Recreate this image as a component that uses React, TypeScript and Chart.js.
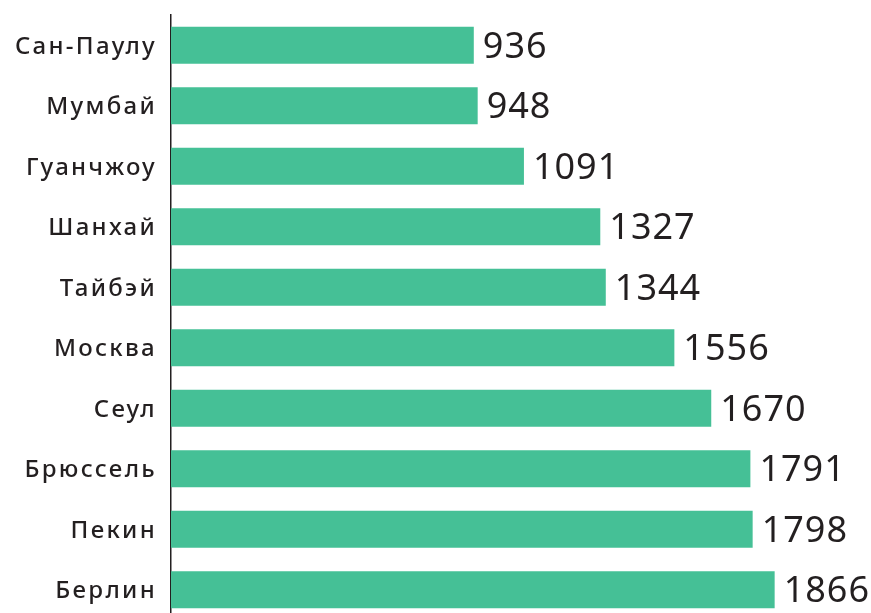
import React, { useEffect, useRef } from "react";
import { Chart, registerables } from "chart.js";

Chart.register(...registerables);

const categories = ["Сан-Паулу", "Мумбай", "Гуанчжоу", "Шанхай", "Тайбэй", "Москва", "Сеул", "Брюссель", "Пекин", "Берлин"];
const values = [936, 948, 1091, 1327, 1344, 1556, 1670, 1791, 1798, 1866];

const BAR_COLOR = "#45c096";
const TEXT_COLOR = "#231f20";

const labelPlugin = {
  id: "customLabels",
  afterDraw(chart: any) {
    const ctx = chart.ctx as CanvasRenderingContext2D;
    const yScale = chart.scales.y;
    const meta = chart.getDatasetMeta(0);
    ctx.save();
    ctx.fillStyle = TEXT_COLOR;
    // category labels
    ctx.font = "500 24px 'Noto Sans'";
    (ctx as any).letterSpacing = "2.3px";
    ctx.textAlign = "right";
    ctx.textBaseline = "alphabetic";
    categories.forEach((c, i) => {
      const y = yScale.getPixelForValue(i);
      ctx.fillText(c, chart.chartArea.left - 14, y + 8.5);
    });
    // value labels
    ctx.font = "400 36px 'Noto Sans'";
    (ctx as any).letterSpacing = "1px";
    ctx.textAlign = "left";
    meta.data.forEach((bar: any, i: number) => {
      ctx.fillText(String(values[i]), bar.x + 9, bar.y + 12.5);
    });
    ctx.restore();
  },
};

export default function App() {
  const ref = useRef<HTMLCanvasElement | null>(null);
  useEffect(() => {
    if (!ref.current) return;
    const chart = new Chart(ref.current, {
      type: "bar",
      data: {
        labels: categories,
        datasets: [
          {
            data: values,
            backgroundColor: BAR_COLOR,
            borderWidth: 0,
            categoryPercentage: 1,
            barPercentage: 0.61,
          },
        ],
      },
      options: {
        indexAxis: "y",
        animation: false,
        responsive: false,
        maintainAspectRatio: false,
        layout: { padding: { top: 15, bottom: 1, left: 0, right: 53 } },
        plugins: { legend: { display: false }, tooltip: { enabled: false } },
        scales: {
          x: { display: false, min: 0, max: 2000 },
          y: {
            display: true,
            grid: { display: false, drawTicks: false },
            border: { display: true, color: "#231f20", width: 1.5 },
            ticks: { display: false },
            afterFit: (scale: any) => {
              scale.width = 171;
            },
          },
        },
      },
      plugins: [labelPlugin],
    });
    return () => chart.destroy();
  }, []);
  return (
    <div style={{ position: "fixed", left: 0, top: 0, width: 871, height: 613, overflow: "hidden", background: "#fff" }}>
      <canvas ref={ref} width={871} height={621} style={{ display: "block" }} />
    </div>
  );
}
